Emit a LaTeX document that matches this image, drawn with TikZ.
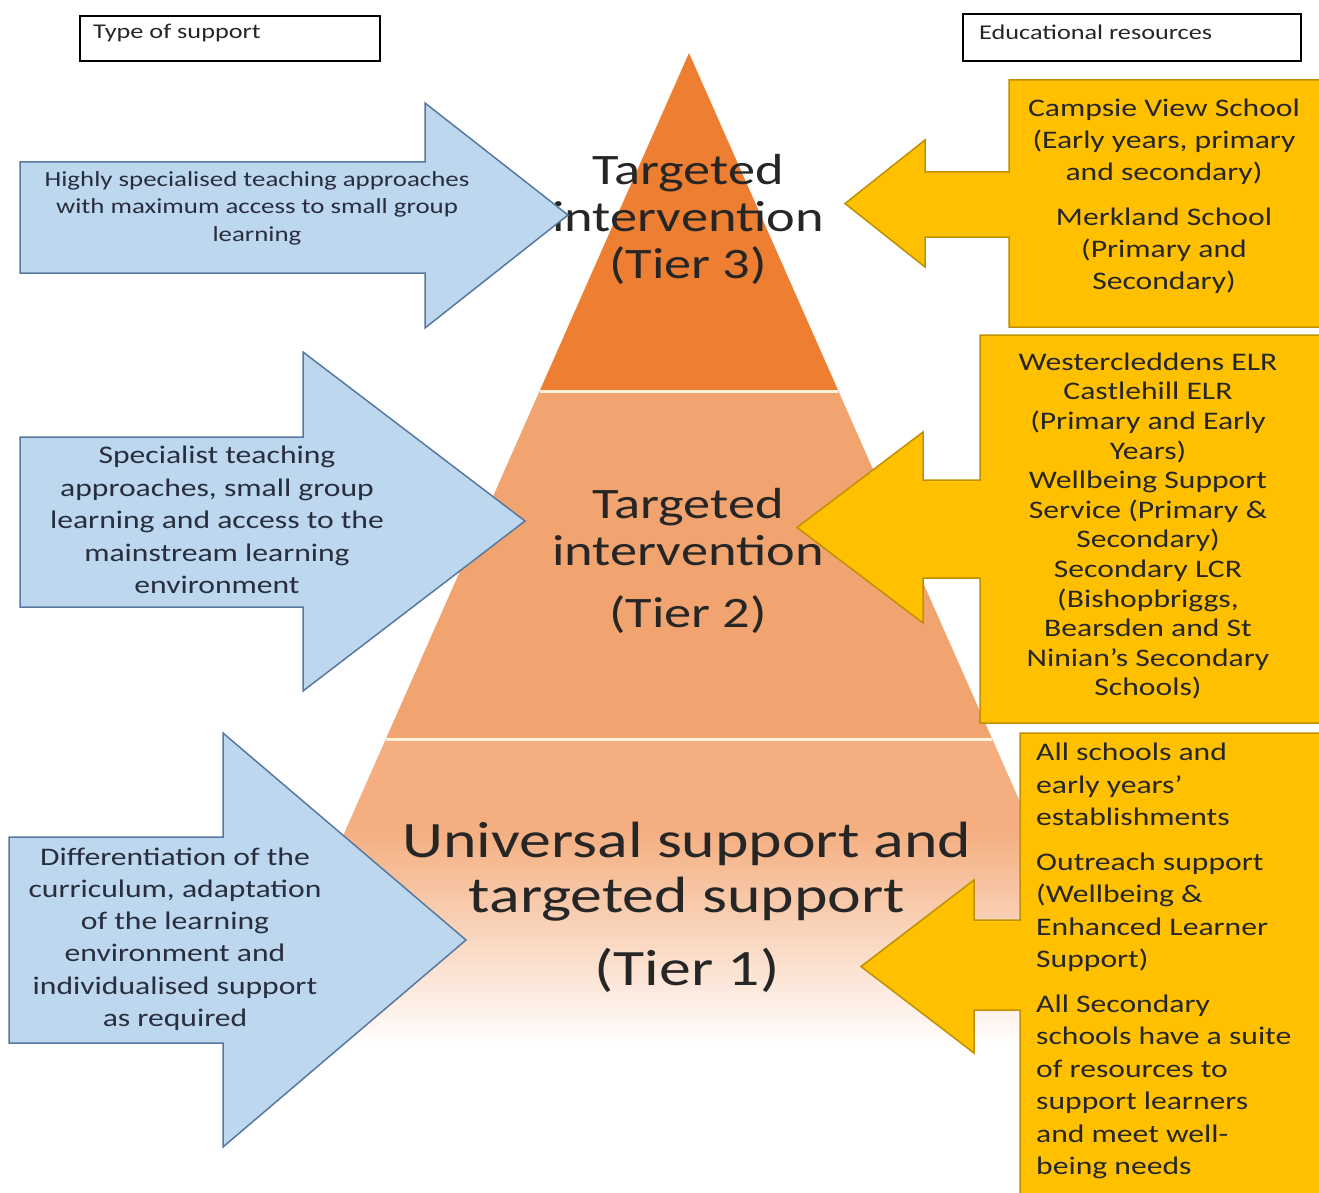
\documentclass[tikz,border=0pt]{standalone}
\usepackage{fontspec}
\setmainfont{Carlito}[FakeStretch=1.25]
\definecolor{tierthree}{RGB}{237,126,50}
\definecolor{tiertwo}{RGB}{241,164,112}
\definecolor{tierone}{RGB}{244,174,128}
\definecolor{bluefill}{RGB}{189,215,238}
\definecolor{blueline}{RGB}{88,120,158}
\definecolor{goldfill}{RGB}{255,192,0}
\definecolor{goldline}{RGB}{191,144,0}
\definecolor{inktext}{RGB}{38,38,38}
\definecolor{navytext}{RGB}{40,46,62}
\definecolor{septint}{RGB}{255,242,220}
\pgfdeclareverticalshading{tierfade}{100bp}{color(0bp)=(white); color(27bp)=(white); color(61bp)=(tierone); color(100bp)=(tierone)}

\begin{document}
\begin{tikzpicture}[x=1pt,y=-1pt]
\tikzstyle{every node}+=[inner sep=0pt]
\tikzstyle{bluearrow}=[fill=bluefill,draw=blueline,line width=1.5pt]
\tikzstyle{goldarrow}=[fill=goldfill,draw=goldline,line width=1.5pt]
\tikzstyle{sepline}=[draw=septint,line width=3pt]
\tikzstyle{labelbox}=[draw=black,line width=2pt,anchor=north west]
\tikzstyle{labeltext}=[anchor=west,text=inktext,font=\fontsize{21}{25}\selectfont]
\tikzstyle{tiertext}=[align=center,text=inktext]
\tikzstyle{supporttext}=[align=center,text=navytext]
\tikzstyle{resourcetext}=[text=inktext]
\fill[white] (0,0) rectangle (1319,1193);
\useasboundingbox (0,0) rectangle (1319,1193);

\coordinate (apex) at (689,53);
\coordinate (t3l) at (539.6,391);
\coordinate (t3r) at (838.4,391);
\coordinate (t2l) at (385.8,739);
\coordinate (t2r) at (992.2,739);
\coordinate (t1l) at (243.9,1060);
\coordinate (t1r) at (1134.1,1060);
\fill[tierthree] (apex) -- (t3r) -- (t3l) -- cycle;
\fill[tiertwo] (t3l) -- (t3r) -- (t2r) -- (t2l) -- cycle;
\shade[shading=tierfade] (t2l) -- (t2r) -- (t1r) -- (t1l) -- cycle;
\draw[sepline] (t3l) -- (t3r);
\draw[sepline] (t2l) -- (t2r);

\node[tiertext,font=\fontsize{43.5}{47}\selectfont] (tier3) at (688,219) {Targeted\\intervention\\(Tier 3)};
\node[tiertext,font=\fontsize{43.5}{47}\selectfont] (tier2) at (688,561) {Targeted\\intervention\\[15pt](Tier 2)};
\node[tiertext,font=\fontsize{51}{55}\selectfont] (tier1) at (687,907) {Universal support and\\targeted support\\[18pt](Tier 1)};

\draw[bluearrow] (20,162) -- (425,162) -- (425,103) -- (568,215) -- (425,328) -- (425,273) -- (20,273) -- cycle;
\draw[bluearrow] (20,437) -- (303,437) -- (303,352) -- (525,521) -- (303,691) -- (303,607) -- (20,607) -- cycle;
\draw[bluearrow] (9,837) -- (223,837) -- (223,733) -- (466,940) -- (223,1147) -- (223,1043) -- (9,1043) -- cycle;
\node[supporttext,font=\fontsize{21.5}{27.5}\selectfont] (highly) at (257,208) {Highly specialised teaching approaches\\with maximum access to small group\\learning};
\node[supporttext,font=\fontsize{25.3}{32.5}\selectfont] (specialist) at (217,520) {Specialist teaching\\approaches, small group\\learning and access to the\\mainstream learning\\environment};
\node[supporttext,font=\fontsize{25.3}{32.2}\selectfont] (differ) at (175,939) {Differentiation of the\\curriculum, adaptation\\of the learning\\environment and\\individualised support\\as required};

\draw[goldarrow] (1325,80) -- (1009,80) -- (1009,172) -- (925,172) -- (925,140) -- (845,203.5) -- (925,267) -- (925,237) -- (1009,237) -- (1009,327) -- (1325,327) -- cycle;
\draw[goldarrow] (1325,335) -- (980,335) -- (980,480) -- (923,480) -- (923,432) -- (797,527.5) -- (923,623) -- (923,578) -- (980,578) -- (980,723) -- (1325,723) -- cycle;
\draw[goldarrow] (1325,733) -- (1020,733) -- (1020,920) -- (974,920) -- (974,880) -- (861,966.5) -- (974,1053) -- (974,1010) -- (1020,1010) -- (1020,1200) -- (1325,1200) -- cycle;
\node[resourcetext,align=center,font=\fontsize{25.3}{32}\selectfont] (campsie) at (1164,196) {Campsie View School\\(Early years, primary\\and secondary)\\[13pt]Merkland School\\(Primary and\\Secondary)};
\node[resourcetext,align=center,font=\fontsize{25.3}{29.6}\selectfont] (wester) at (1148,526) {Westercleddens ELR\\Castlehill ELR\\(Primary and Early\\Years)\\Wellbeing Support\\Service (Primary \&\\Secondary)\\Secondary LCR\\(Bishopbriggs,\\Bearsden and St\\Ninian’s Secondary\\Schools)};
\node[resourcetext,align=left,anchor=west,font=\fontsize{25.3}{32.5}\selectfont] (allschools) at (1036,961) {All schools and\\early years’\\establishments\\[12pt]Outreach support\\(Wellbeing \&\\Enhanced Learner\\Support)\\[12pt]All Secondary\\schools have a suite\\of resources to\\support learners\\and meet well-\\being needs};

\node[labelbox,minimum width=300pt,minimum height=45pt] (typebox) at (79,15) {};
\node[labeltext] (typelabel) at (93,33) {Type of support};
\node[labelbox,minimum width=338pt,minimum height=47pt] (resbox) at (962,13) {};
\node[labeltext] (reslabel) at (979,32) {Educational resources};
\end{tikzpicture}
\end{document}
